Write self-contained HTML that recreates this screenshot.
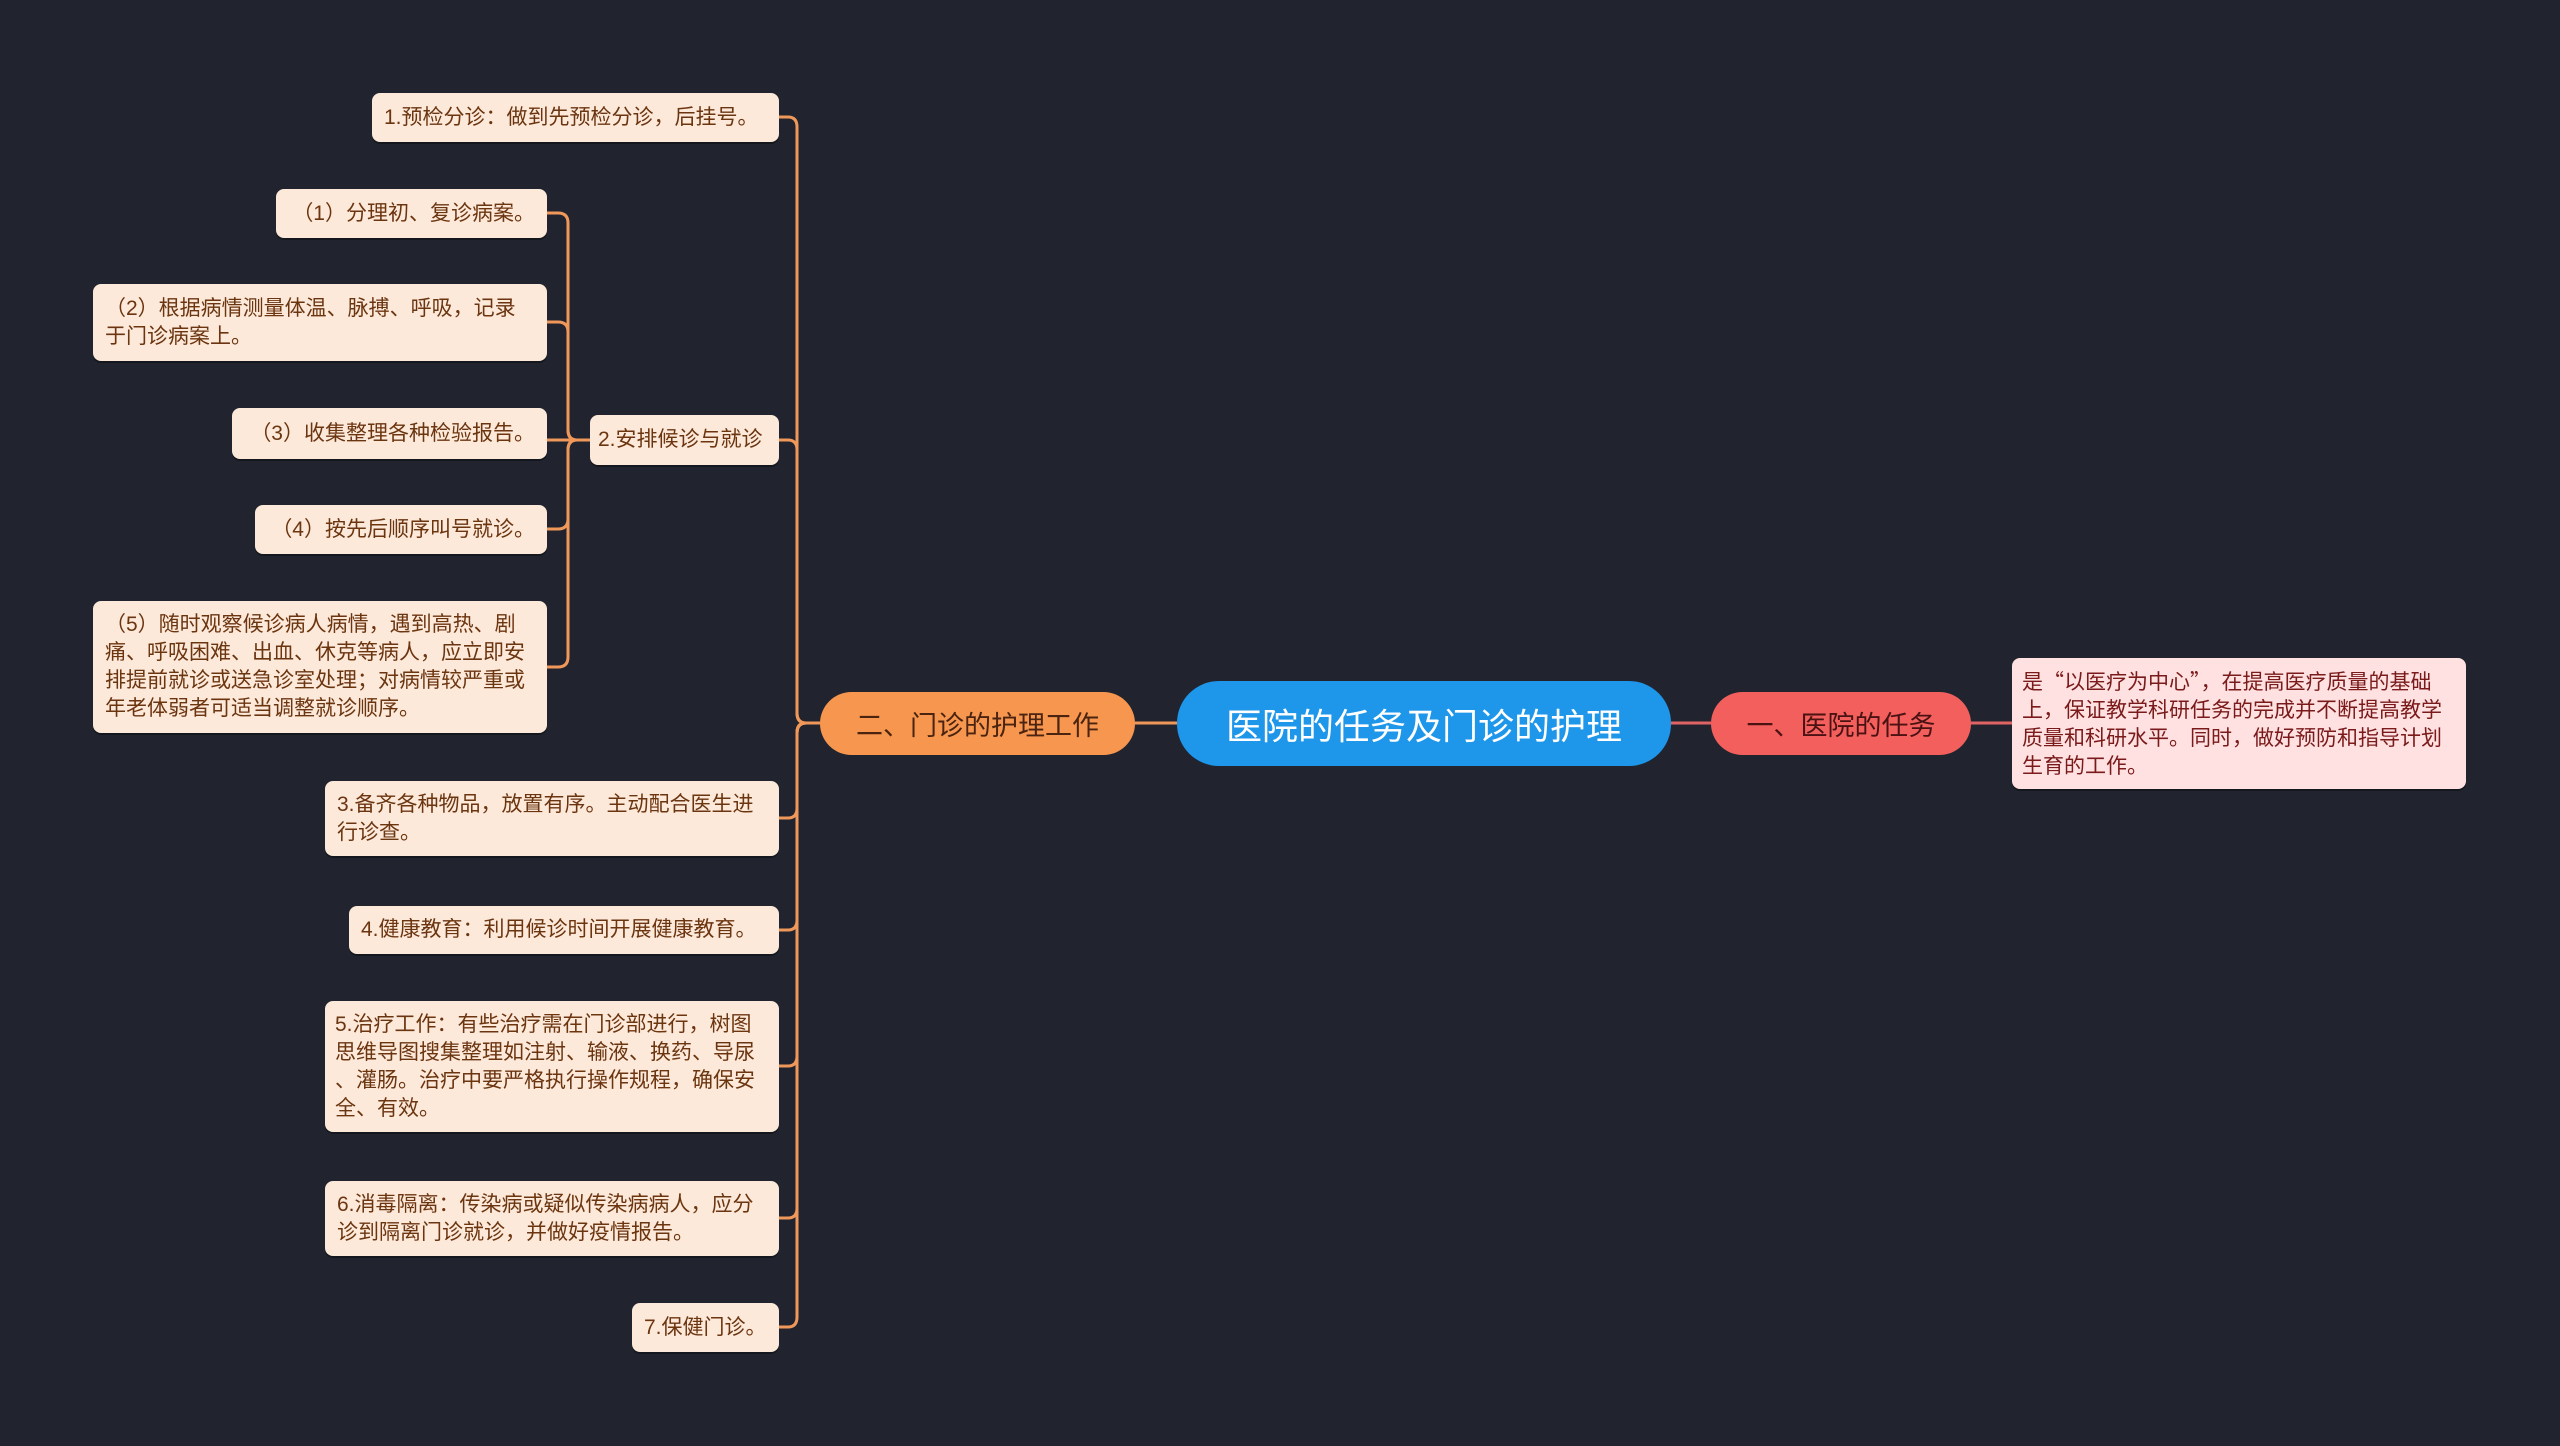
<!DOCTYPE html>
<html><head><meta charset="utf-8"><style>
html,body{margin:0;padding:0}
body{width:2560px;height:1446px;background:#21242f;position:relative;overflow:hidden;font-family:"Liberation Sans","Noto Sans CJK SC",sans-serif}
.n{position:absolute;box-sizing:border-box;border-radius:8px;background:#fde9da;color:#6b3510;font-size:21px;line-height:28px;padding:0 12px;display:flex;align-items:center;box-shadow:0 2px 0 rgba(0,0,0,.35)}
.r{text-align:right;justify-content:flex-end}
.q{font-family:"Noto Sans CJK SC",sans-serif}
.big{position:absolute;box-sizing:border-box;display:flex;align-items:center;justify-content:center;border-radius:32px}
svg{position:absolute;left:0;top:0}
</style></head><body>
<svg width="2560" height="1446" fill="none">
<g stroke="#f0985a" stroke-width="3">
<path d="M1177,723 H1135"/>
<path d="M820,723 H806 Q797,723 797,713 V127 Q797,117 788,117 H779"/>
<path d="M820,723 H806 Q797,723 797,713 V450 Q797,440 788,440 H779"/>
<path d="M820,723 H806 Q797,723 797,733 V808 Q797,818 788,818 H779"/>
<path d="M820,723 H806 Q797,723 797,733 V920 Q797,930 788,930 H779"/>
<path d="M820,723 H806 Q797,723 797,733 V1056 Q797,1066 788,1066 H779"/>
<path d="M820,723 H806 Q797,723 797,733 V1208 Q797,1218 788,1218 H779"/>
<path d="M820,723 H806 Q797,723 797,733 V1317 Q797,1327 788,1327 H779"/>
<path d="M590,440 H577 Q568,440 568,430 V223 Q568,213 558,213 H547"/>
<path d="M590,440 H577 Q568,440 568,430 V332 Q568,322 558,322 H547"/>
<path d="M590,440 H547"/>
<path d="M590,440 H577 Q568,440 568,450 V519 Q568,529 558,529 H547"/>
<path d="M590,440 H577 Q568,440 568,450 V657 Q568,667 558,667 H547"/>
</g>
<path d="M1671,723 H1711 M1971,723 H2012" stroke="#e06464" stroke-width="3"/>
</svg>

<div class="big" style="left:1177px;top:681px;width:494px;height:85px;background:#1e96ea;color:#fff;font-size:36px;border-radius:42px">医院的任务及门诊的护理</div>
<div class="big" style="left:1711px;top:692px;width:260px;height:63px;background:#f25f5c;color:#4a1212;font-size:27px">一、医院的任务</div>
<div class="big" style="left:820px;top:692px;width:315px;height:63px;background:#f7964f;color:#4a2410;font-size:27px">二、门诊的护理工作</div>

<div class="n" style="left:2012px;top:658px;width:454px;height:131px;background:#ffe1e1;color:#7a1a1a;padding:0 10px"><div>是<span class="q">“</span>以医疗为中心<span class="q">”</span>，在提高医疗质量的基础上，保证教学科研任务的完成并不断提高教学质量和科研水平。同时，做好预防和指导计划生育的工作。</div></div>

<div class="n" style="left:372px;top:93px;width:407px;height:49px">1.预检分诊：做到先预检分诊，后挂号。</div>
<div class="n" style="left:590px;top:415px;width:189px;height:50px;padding:0 8px">2.安排候诊与就诊</div>
<div class="n r" style="left:276px;top:189px;width:271px;height:49px">（1）分理初、复诊病案。</div>
<div class="n" style="left:93px;top:284px;width:454px;height:77px">（2）根据病情测量体温、脉搏、呼吸，记录于门诊病案上。</div>
<div class="n r" style="left:232px;top:408px;width:315px;height:51px">（3）收集整理各种检验报告。</div>
<div class="n r" style="left:255px;top:505px;width:292px;height:49px">（4）按先后顺序叫号就诊。</div>
<div class="n" style="left:93px;top:601px;width:454px;height:132px">（5）随时观察候诊病人病情，遇到高热、剧痛、呼吸困难、出血、休克等病人，应立即安排提前就诊或送急诊室处理；对病情较严重或年老体弱者可适当调整就诊顺序。</div>
<div class="n" style="left:325px;top:781px;width:454px;height:75px">3.备齐各种物品，放置有序。主动配合医生进行诊查。</div>
<div class="n" style="left:349px;top:906px;width:430px;height:48px">4.健康教育：利用候诊时间开展健康教育。</div>
<div class="n" style="left:325px;top:1001px;width:454px;height:131px;padding:0 10px;line-break:anywhere">5.治疗工作：有些治疗需在门诊部进行，树图思维导图搜集整理如注射、输液、换药、导尿、灌肠。治疗中要严格执行操作规程，确保安全、有效。</div>
<div class="n" style="left:325px;top:1181px;width:454px;height:75px">6.消毒隔离：传染病或疑似传染病病人，应分诊到隔离门诊就诊，并做好疫情报告。</div>
<div class="n" style="left:632px;top:1303px;width:147px;height:49px">7.保健门诊。</div>
</body></html>
